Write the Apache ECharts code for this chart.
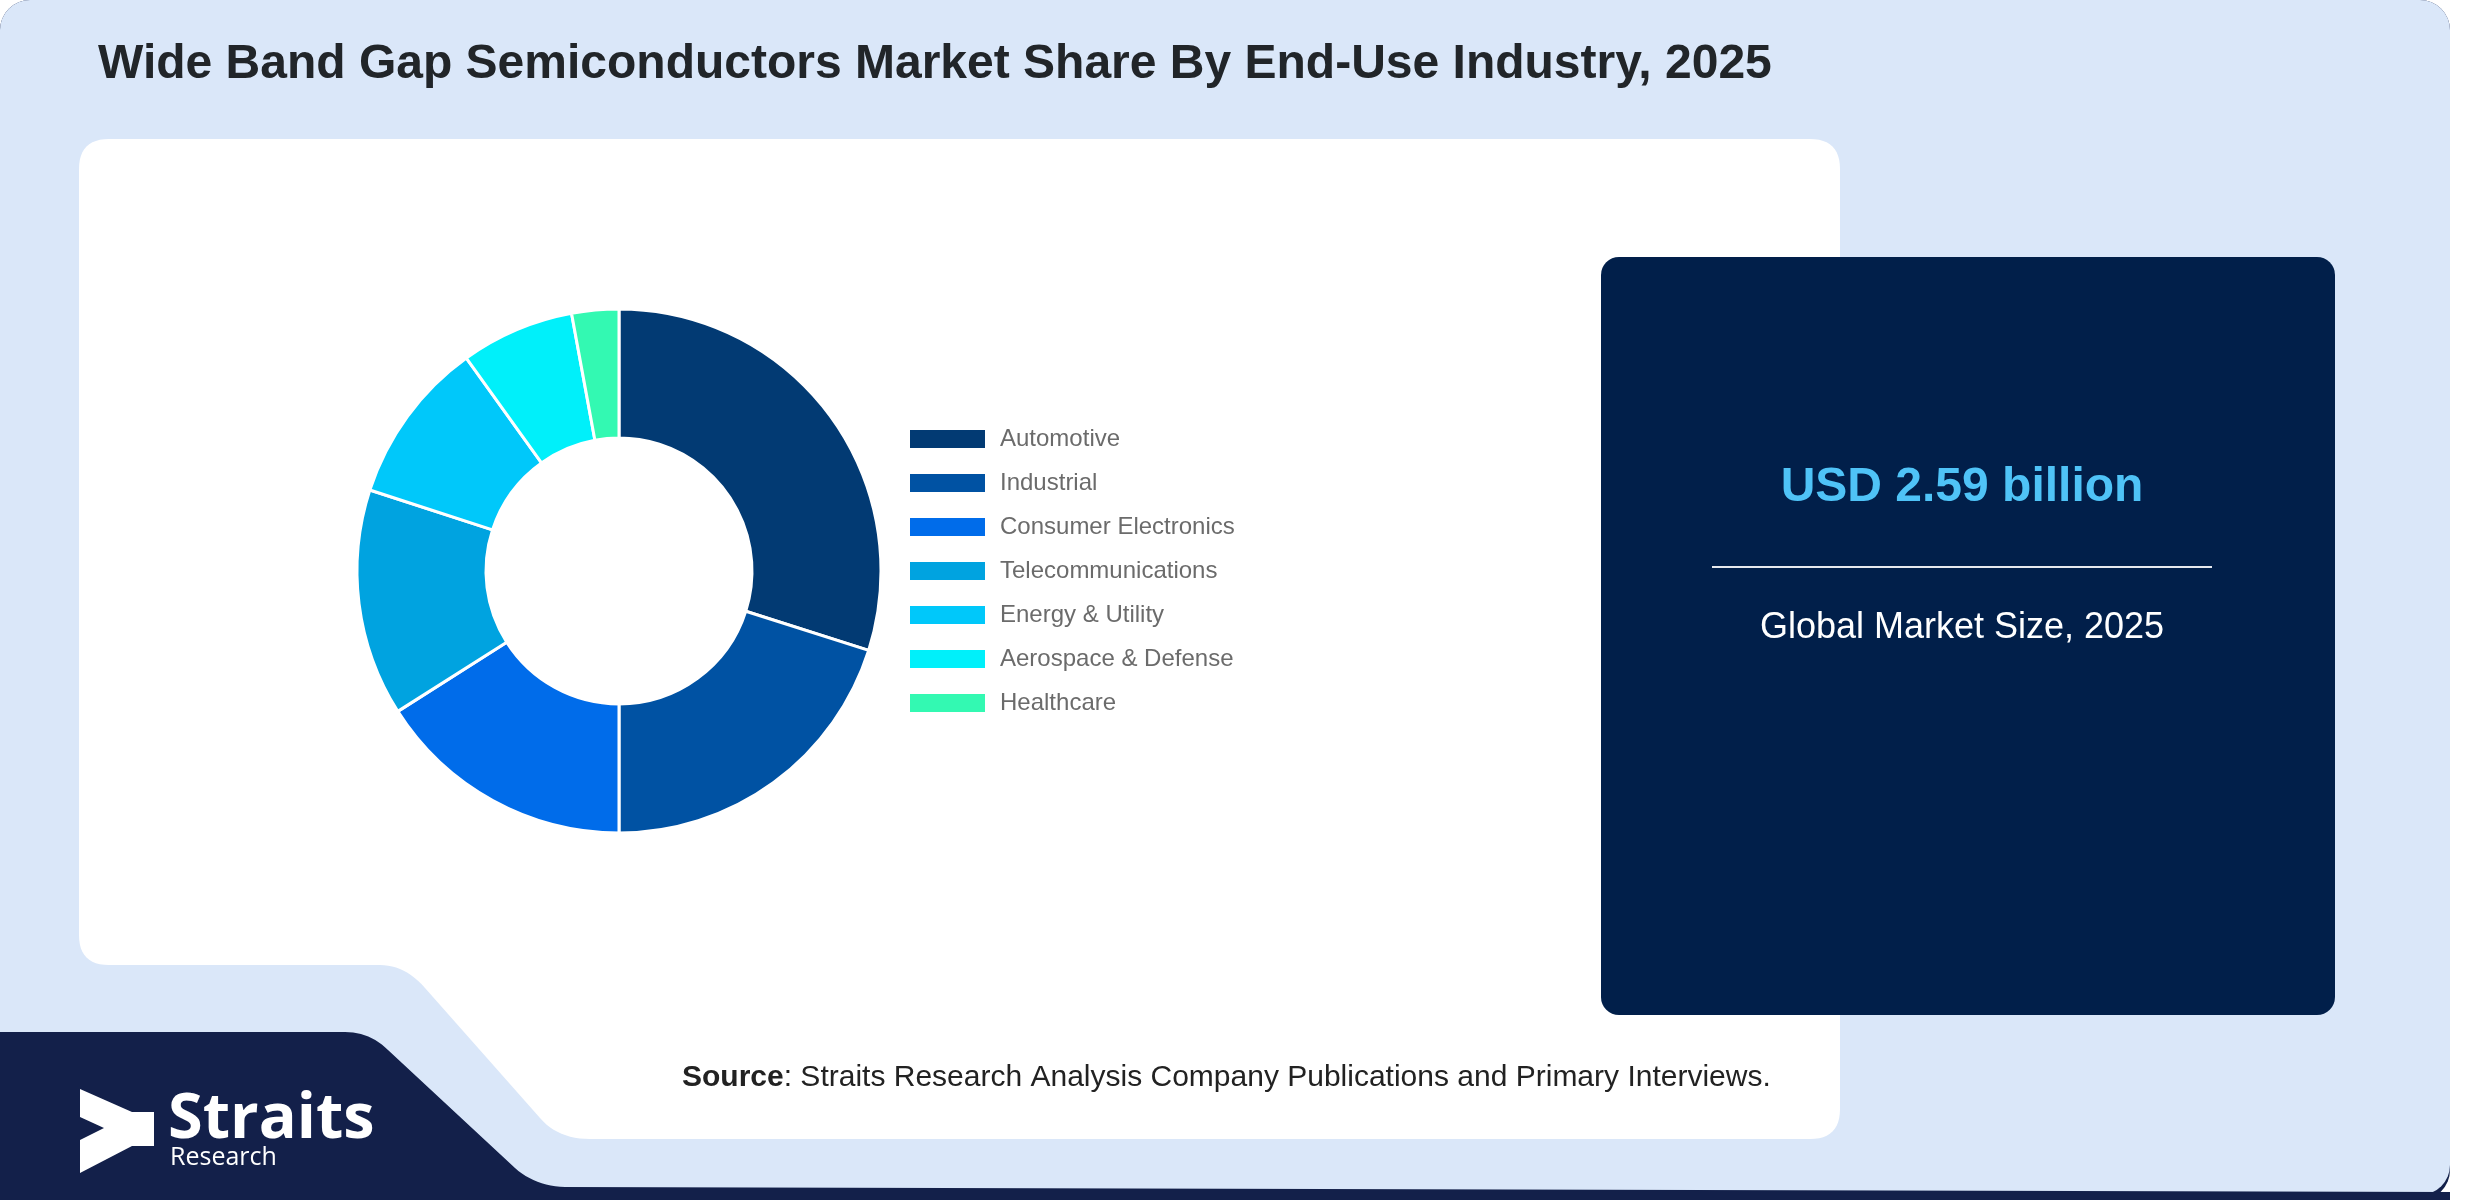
<!DOCTYPE html>
<html>
<head>
<meta charset="utf-8">
<style>
html,body{margin:0;padding:0;background:#ffffff;}
#chart{width:2480px;height:1200px;}
</style>
<script src="https://cdn.jsdelivr.net/npm/echarts@6/dist/echarts.min.js"></script>
</head>
<body>
<div id="chart"></div>
<script>
const titleText = 'Wide Band Gap Semiconductors Market Share By End-Use Industry, 2025';
const categories = ['Automotive', 'Industrial', 'Consumer Electronics', 'Telecommunications', 'Energy & Utility', 'Aerospace & Defense', 'Healthcare'];
const shares = [29.9, 20.1, 16.0, 14.0, 10.1, 7.0, 2.9];
const sliceColors = ['#023a73', '#0052a3', '#006cea', '#00a3e0', '#00c8fa', '#00f0fa', '#33f9b2'];
const marketValue = 'USD 2.59 billion';
const marketLabel = 'Global Market Size, 2025';
const sourceText = 'Straits Research Analysis Company Publications and Primary Interviews.';

// build polygon outline from segments: ['M',x,y], ['L',x,y], ['Q',cx,cy,x,y]
function outline(cmds) {
  const pts = [];
  let cur = null;
  cmds.forEach(c => {
    if (c[0] === 'M' || c[0] === 'L') { cur = [c[1], c[2]]; pts.push(cur); }
    else if (c[0] === 'Q') {
      const [, cx, cy, x, y] = c;
      const [x0, y0] = cur;
      for (let i = 1; i <= 12; i++) {
        const t = i / 12, u = 1 - t;
        pts.push([u*u*x0 + 2*u*t*cx + t*t*x, u*u*y0 + 2*u*t*cy + t*t*y]);
      }
      cur = [x, y];
    }
  });
  return pts;
}

const navyShape = outline([
  ['M',0,1032],['L',345,1032],['Q',370,1032,388,1050],['L',515,1168],['Q',535,1186,565,1187],
  ['L',2450,1192],['L',2450,1200],['L',0,1200]
]);
const whiteShape = outline([
  ['M',109,139],['L',1810,139],['Q',1840,139,1840,169],['L',1840,1109],['Q',1840,1139,1810,1139],
  ['L',590,1139],['Q',558,1139,540,1118],['L',425,988],['Q',405,965,380,965],['L',109,965],
  ['Q',79,965,79,935],['L',79,169],['Q',79,139,109,139]
]);

const chart = echarts.init(document.getElementById('chart'), null, {renderer: 'canvas'});

const pieData = categories.map((c, i) => ({name: c, value: shares[i], itemStyle: {color: sliceColors[i]}}));

const option = {
  animation: false,
  graphic: {
    elements: [
      {type: 'rect', z: 0, shape: {x: 0, y: 0, width: 2450, height: 1200, r: 30}, style: {fill: '#13204a'}},
      {type: 'rect', z: 0, shape: {x: 0, y: 0, width: 2450, height: 1195, r: 30}, style: {fill: '#dae7f9'}},
      {type: 'polygon', z: 0, shape: {points: navyShape}, style: {fill: '#13204a'}},
      {type: 'polygon', z: 0, shape: {points: whiteShape}, style: {fill: '#ffffff'}},
      {type: 'rect', z: 0, shape: {x: 1601, y: 257, width: 734, height: 758, r: 18}, style: {fill: '#011f4a'}},
      {type: 'line', z: 1, shape: {x1: 1712, y1: 567, x2: 2212, y2: 567}, style: {stroke: '#e6e9ee', lineWidth: 2}},
      {type: 'text', z: 1, style: {text: marketValue, x: 1962, y: 488, align: 'center', verticalAlign: 'middle', fill: '#4fc3f7', font: 'bold 48px "Liberation Sans", Arial, sans-serif'}},
      {type: 'text', z: 1, style: {text: marketLabel, x: 1962, y: 628, align: 'center', verticalAlign: 'middle', fill: '#ffffff', font: '36px "Liberation Sans", Arial, sans-serif'}},
      {type: 'text', z: 1, style: {text: titleText, x: 98, y: 65, align: 'left', verticalAlign: 'middle', fill: '#212529', font: 'bold 48px "Liberation Sans", Arial, sans-serif'}},
      {type: 'text', z: 1, style: {
        text: '{b|Source}: ' + sourceText, x: 682, y: 1078, align: 'left', verticalAlign: 'middle',
        fill: '#222222', font: '30px "Liberation Sans", Arial, sans-serif',
        rich: {b: {fontWeight: 'bold', fontSize: 30, fontFamily: '"Liberation Sans", Arial, sans-serif', fill: '#222222'}}
      }},
      {type: 'polygon', z: 1, shape: {points: [[80,1089],[132,1112],[154,1112],[154,1146],[132,1146],[80,1173],[80,1140],[104,1128],[80,1117]]}, style: {fill: '#ffffff'}},
      {type: 'text', z: 1, style: {text: 'Straits', x: 168, y: 1120, align: 'left', verticalAlign: 'middle', fill: '#ffffff', font: 'bold 63px "Open Sans", sans-serif'}},
      {type: 'text', z: 1, style: {text: 'Research', x: 170, y: 1158, align: 'left', verticalAlign: 'middle', fill: '#ffffff', font: '25px "Open Sans", sans-serif'}}
    ]
  },
  legend: {
    orient: 'vertical',
    left: 908,
    top: 427,
    padding: 0,
    itemWidth: 77,
    itemHeight: 20,
    itemGap: 20,
    icon: 'rect',
    data: categories,
    textStyle: {fontSize: 24, color: '#6b6b6b', fontFamily: '"Liberation Sans", Arial, sans-serif', padding: [0, 0, 0, 9]}
  },
  series: [{
    type: 'pie',
    center: [619, 571],
    radius: [133, 262],
    startAngle: 90,
    clockwise: true,
    label: {show: false},
    labelLine: {show: false},
    emphasis: {disabled: true},
    itemStyle: {borderColor: '#ffffff', borderWidth: 3},
    data: pieData
  }]
};
chart.setOption(option);
</script>
</body>
</html>
